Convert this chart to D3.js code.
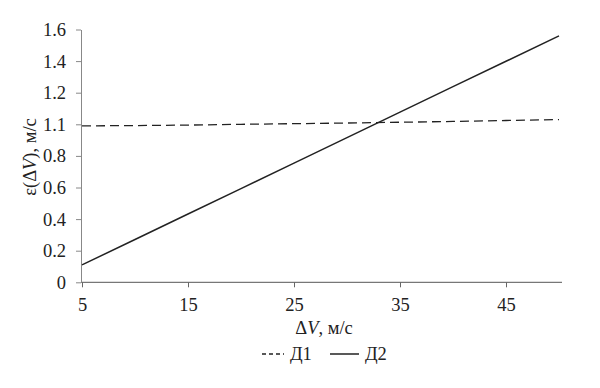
<!DOCTYPE html>
<html>
<head>
<meta charset="utf-8">
<script src="https://cdn.jsdelivr.net/npm/d3@7"></script>
<style>
  body { margin: 0; background: #fff; }
  svg text { font-family: "Liberation Serif", "Times New Roman", serif; fill: #222; }
</style>
</head>
<body>
<div id="content"></div>
<script>
// values
var speeds = [5, 10, 15, 20, 25, 30, 35, 40, 45, 50];
var d1 = [0.99, 0.992, 0.995, 1.0, 1.004, 1.008, 1.013, 1.018, 1.024, 1.03];
var d2 = [0.11, 0.271, 0.432, 0.593, 0.754, 0.916, 1.077, 1.238, 1.399, 1.56];
var xTicks = [5, 15, 25, 35, 45];
var yTicks = [0, 0.2, 0.4, 0.6, 0.8, 1.0, 1.2, 1.4, 1.6];
var yTickLabels = ["0", "0.2", "0.4", "0.6", "0.8", "1.1", "1.2", "1.4", "1.6"];

(function(d3) {
    var width = 600, height = 388;
    var margin = {top: 29.5, right: 40, bottom: 105.7, left: 82};
    var serif = "'Liberation Serif', 'Times New Roman', serif";

    var svg = d3.select("#content").append("svg")
        .attr("viewBox", [0, 0, width, height])
        .attr("width", width).attr("height", height);

    var x = d3.scaleLinear()
        .domain([5, 50])
        .range([margin.left, 559]);
    var y = d3.scaleLinear()
        .domain([0, 1.6])
        .range([height - margin.bottom, margin.top]);

    var xAxis = svg.append("g")
        .attr("transform", "translate(0," + (height - margin.bottom) + ")")
        .call(d3.axisBottom(x).tickValues(xTicks).tickSize(5).tickSizeOuter(0).tickPadding(11));
    xAxis.attr("font-family", serif);
    xAxis.select(".domain").attr("stroke", "#555").attr("d", "M" + (margin.left - 1) + ",0H562");
    xAxis.selectAll(".tick line").attr("stroke", "#666");
    xAxis.selectAll("text").attr("font-size", 18.5).attr("fill", "#222");

    var yAxis = svg.append("g")
        .attr("transform", "translate(" + (margin.left - 1) + ",0)")
        .call(d3.axisLeft(y).tickValues(yTicks).tickSize(5).tickSizeOuter(0).tickPadding(10)
            .tickFormat(function(d, i) { return yTickLabels[i]; }));
    yAxis.attr("font-family", serif);
    yAxis.select(".domain").attr("stroke", "#888");
    yAxis.selectAll(".tick line").attr("stroke", "#888");
    yAxis.selectAll("text").attr("font-size", 18.5).attr("fill", "#222");

    var line = d3.line()
        .x(function(d, i) { return x(speeds[i]); })
        .y(function(d) { return y(d); });

    svg.append("path")
        .datum(d1)
        .attr("fill", "none")
        .attr("stroke", "#222")
        .attr("stroke-width", 1.3)
        .attr("stroke-dasharray", "9,5")
        .attr("d", line);

    svg.append("path")
        .datum(d2)
        .attr("fill", "none")
        .attr("stroke", "#222")
        .attr("stroke-width", 1.5)
        .attr("d", line);

    // axis titles
    var xt = svg.append("text")
        .attr("x", 324).attr("y", 334)
        .attr("text-anchor", "middle")
        .attr("font-family", serif)
        .attr("font-size", 18.5);
    xt.append("tspan").text("Δ");
    xt.append("tspan").attr("font-style", "italic").text("V");
    xt.append("tspan").text(", м/с");

    var yt = svg.append("text")
        .attr("transform", "translate(36,157) rotate(-90)")
        .attr("text-anchor", "middle")
        .attr("font-family", serif)
        .attr("font-size", 18.5);
    yt.append("tspan").text("ε(Δ");
    yt.append("tspan").attr("font-style", "italic").text("V");
    yt.append("tspan").text("), м/с");

    // legend
    var legend = svg.append("g").attr("transform", "translate(0,354)")
        .attr("font-family", serif);
    legend.append("line")
        .attr("x1", 262).attr("x2", 284).attr("y1", 0).attr("y2", 0)
        .attr("stroke", "#222").attr("stroke-width", 1.3).attr("stroke-dasharray", "4,3");
    legend.append("text").attr("x", 290).attr("y", 6).attr("font-size", 18.5).text("Д1");
    legend.append("line")
        .attr("x1", 330).attr("x2", 359).attr("y1", 0).attr("y2", 0)
        .attr("stroke", "#222").attr("stroke-width", 1.5);
    legend.append("text").attr("x", 365).attr("y", 6).attr("font-size", 18.5).text("Д2");
})(d3);
</script>
</body>
</html>
